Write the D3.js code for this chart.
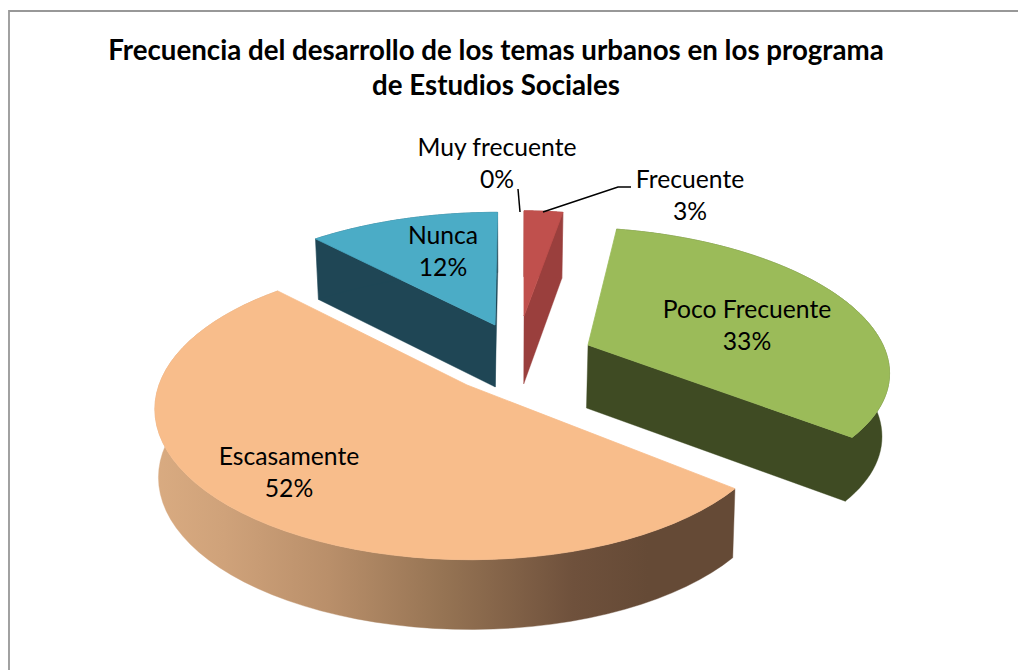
<!DOCTYPE html>
<html><head><meta charset="utf-8">
<script src="https://cdn.jsdelivr.net/npm/d3@7/dist/d3.min.js"></script>
<style>html,body{margin:0;padding:0;background:#fff}svg{display:block}text{font-family:Lato,"Open Sans",sans-serif;fill:#000}</style>
</head><body><svg id="c" width="1018" height="670"></svg>
<script>
const titleLines = ["Frecuencia del desarrollo de los temas urbanos en los programa","de Estudios Sociales"];
const categories = ["Muy frecuente","Frecuente","Poco Frecuente","Escasamente","Nunca"];
const values = [0,3,33,52,12];
const colors = ["#4F81BD","#C0504D","#9BBB59","#F8BD8B","#4BACC6"];
const wallColors = ["#2C4A70","#9A3F3D","#3F4B23","#6A4C37","#1F4655"];
const percentLabels = ["0%","3%","33%","52%","12%"];

// layout: per-slice projection parameters, one entry per category
const apex = [[524,316],[524,316],[588,345],[467,385],[495,325]];
const radiusX = [250,250,295,308,305];
const radiusY = [127,127,133,145,136];
const persp = [0.207,0.207,0.13,0.17,0.207];
const vanishX = [524,524,408,452,510];
const depths = [68,68,63,68,62];
const sink = [0.98,0.98,0.98,0.99,0.985];
const labelPos = [[497,148],[690,180],[747,310],[289,457],[443,236]];
const SINK_VX = 510;

const svg = d3.select("#c");
const defs = svg.append("defs");
const g = defs.append("linearGradient").attr("id","wallOrange").attr("gradientUnits","userSpaceOnUse")
  .attr("x1",155).attr("x2",735).attr("y1",0).attr("y2",0);
[[0,"#D9AB81"],[0.12,"#CFA27A"],[0.3,"#B98F6A"],[0.5,"#957353"],[0.72,"#6F513C"],[0.85,"#654A36"],[1,"#654A36"]]
  .forEach(([o,c])=>g.append("stop").attr("offset",o).attr("stop-color",c));

svg.append("path").attr("d","M9,670V11H1018").attr("fill","none").attr("stroke","#989898").attr("stroke-width",1.8);

const arcs = d3.pie().value(d=>d).sort(null)(values);

// perspective projection of a point on a slice's disc
function proj(i,a,r,down){
  const w = 1 + persp[i]*r*Math.cos(a);
  const ox = apex[i][0]-vanishX[i];
  let x = vanishX[i] + (ox + radiusX[i]*r*Math.sin(a))/w;
  let y = apex[i][1] - radiusY[i]*r*Math.cos(a)/w;
  if(down){ y += depths[i]/(0.85+0.15*w); x = SINK_VX + (x-SINK_VX)*sink[i]; }
  return [x,y];
}
const line = d3.line();
const oriented = pts => d3.polygonArea(pts) < 0 ? pts.slice().reverse() : pts;
function rim(i,a0,a1,down){
  return d3.range(0,61).map(k=>proj(i,a0+(a1-a0)*k/60,1,down));
}
[4,1,2,3].forEach(i=>{
  const s = arcs[i], a0=s.startAngle, a1=s.endAngle;
  const G = svg.append("g");
  const wall = i===3 ? "url(#wallOrange)" : wallColors[i];
  const top = rim(i,a0,a1,false), bot = rim(i,a0,a1,true).reverse();
  let d = line(oriented(top.concat(bot)))+"Z";
  const A = proj(i,0,0,false), Ab = proj(i,0,0,true);
  const M = proj(i,(a0+a1)/2,1,false);
  [a0,a1].forEach(a=>{
    const E = proj(i,a,1,false), Eb = proj(i,a,1,true);
    const ex=E[0]-A[0], ey=E[1]-A[1];
    const inner = ex*(M[1]-A[1])-ey*(M[0]-A[0]);
    if(inner*ex<0){
      d += line(oriented([A,E,Eb,Ab]))+"Z";
    }
  });
  G.append("path").attr("d",d).attr("fill",wall).attr("stroke",wall).attr("stroke-width",.4);
  G.append("path").attr("d",line([A].concat(top))+"Z").attr("fill",colors[i]).attr("stroke",colors[i]).attr("stroke-width",.8);
});

// leader lines
svg.append("path").attr("d",d3.line()([[518,189],[520,212]])).attr("fill","none").attr("stroke","#000").attr("stroke-width",1.5);
svg.append("path").attr("d",d3.line()([[631,187],[618,187],[543,212]])).attr("fill","none").attr("stroke","#000").attr("stroke-width",1.5);

// title
svg.selectAll("text.t").data(titleLines).join("text").attr("class","t")
  .attr("x",496).attr("y",(d,i)=>60+i*35).attr("text-anchor","middle")
  .attr("font-size",27.7).attr("font-weight",700).text(d=>d);

// data labels
categories.forEach((c,i)=>{
  const [x,y]=labelPos[i];
  const T = svg.append("text").attr("text-anchor","middle").attr("font-size",24.7);
  T.append("tspan").attr("x",x).attr("y",y+8).text(c);
  T.append("tspan").attr("x",x).attr("y",y+40).text(percentLabels[i]);
});
</script></body></html>
